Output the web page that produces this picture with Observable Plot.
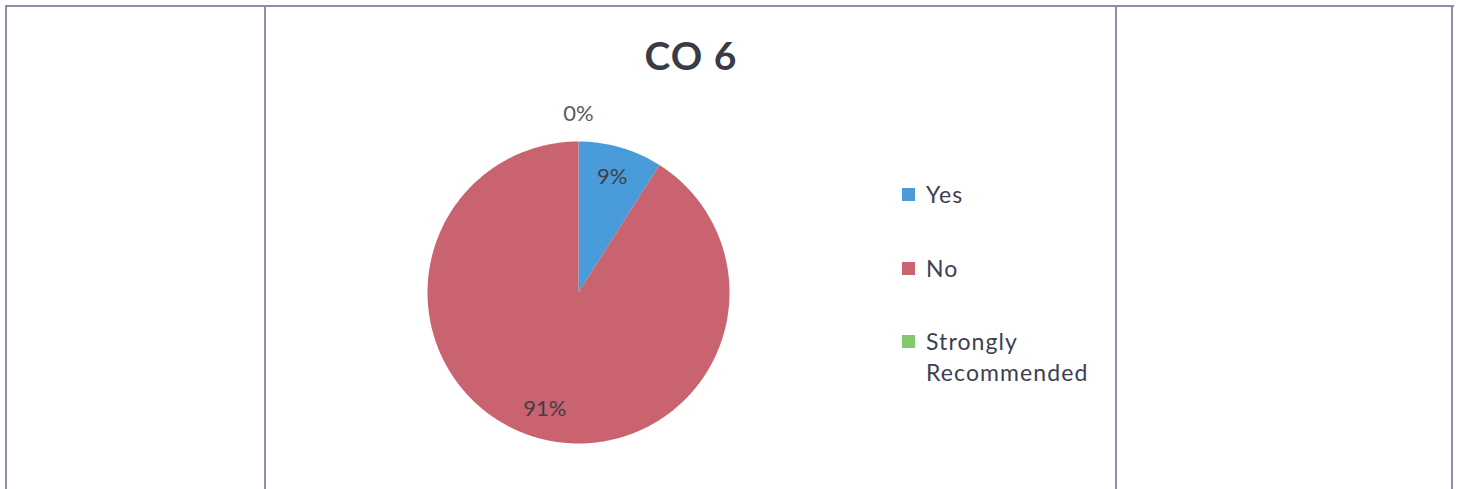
<!DOCTYPE html>
<html>
<head>
<meta charset="utf-8">
<script src="https://cdn.jsdelivr.net/npm/d3@7"></script>
<script src="https://cdn.jsdelivr.net/npm/@observablehq/plot@0.6"></script>
<style>
  html, body { margin: 0; padding: 0; background: #ffffff; }
  #page { position: relative; width: 1460px; height: 489px; overflow: hidden; background: #fff; font-family: Lato, "Open Sans", sans-serif; }
  .hline, .vline { position: absolute; background: #8d90a6; }
  #title { position: absolute; left: 591px; width: 200px; top: 36px; text-align: center; font-family: Lato, sans-serif; font-weight: 700; font-size: 39px; letter-spacing: 1px; color: #3b3b48; line-height: 1; }
  #chart { position: absolute; left: 400px; top: 90px; }
  #legend { position: absolute; left: 902px; top: 0; font-family: Lato, sans-serif; font-size: 23px; letter-spacing: 1.1px; color: #3d3f52; }
  .item { position: absolute; left: 0; white-space: nowrap; }
  .sw { position: absolute; left: 0; width: 13px; height: 13px; }
  .lt { position: absolute; left: 24px; line-height: 31px; }
</style>
</head>
<body>
<div id="page">
  <div class="hline" style="left:5px; top:5px; width:1449px; height:2px;"></div>
  <div class="vline" style="left:5px; top:5px; width:2px; height:484px;"></div>
  <div class="vline" style="left:264px; top:5px; width:2px; height:484px;"></div>
  <div class="vline" style="left:1115px; top:5px; width:2px; height:484px;"></div>
  <div class="vline" style="left:1451px; top:5px; width:2px; height:484px;"></div>
  <div id="title">CO 6</div>
  <div id="chart"></div>
  <div id="legend"></div>
</div>
<script>
// ---- data ----
const categories = ["Yes", "No", "Strongly Recommended"];
const values = [9, 91, 0];
const valueLabels = ["9%", "91%", "0%"];
const colors = ["#4a9bd9", "#c8636f", "#82c96b"];
const legendLines = [["Yes"], ["No"], ["Strongly", "Recommended"]];

// ---- build pie geometry from the data ----
const rows = categories.map((c, i) => ({key: c, value: values[i], label: valueLabels[i]}));
const arcs = d3.pie().sort(null).value(d => d.value)(rows);

const polyPts = [];
for (const a of arcs) {
  if (a.endAngle - a.startAngle <= 0) continue;
  polyPts.push({key: a.data.key, x: 0, y: 0});
  const n = Math.max(2, Math.ceil((a.endAngle - a.startAngle) / 0.01));
  for (let k = 0; k <= n; k++) {
    const t = a.startAngle + (a.endAngle - a.startAngle) * k / n;
    polyPts.push({key: a.data.key, x: Math.sin(t), y: Math.cos(t)});
  }
}
const labelPts = arcs.map(a => {
  const mid = (a.startAngle + a.endAngle) / 2;
  const r = a.data.value > 0 ? 0.8 : 1.18;
  return {x: r * Math.sin(mid), y: r * Math.cos(mid), text: a.data.label, outside: a.data.value === 0};
});

const chart = Plot.plot({
  width: 360,
  height: 370,
  margin: 0,
  style: {background: "transparent", overflow: "visible"},
  x: {domain: [-1, 1], range: [27, 329], axis: null},
  y: {domain: [-1, 1], range: [353, 51], axis: null},
  color: {domain: categories, range: colors},
  marks: [
    Plot.line(polyPts, {x: "x", y: "y", z: "key", fill: "key", stroke: "none", curve: "linear-closed"}),
    Plot.text(labelPts.filter(d => !d.outside), {x: "x", y: "y", text: "text", fill: "#3f3f46", fontSize: 22, fontFamily: "Lato, sans-serif"}),
    Plot.text(labelPts.filter(d => d.outside), {x: "x", y: "y", text: "text", fill: "#5a5a66", fontSize: 22, fontFamily: "Lato, sans-serif"})
  ]
});
document.getElementById("chart").appendChild(chart);

// ---- legend ----
const legend = document.getElementById("legend");
const tops = [179, 253, 326];
categories.forEach((c, i) => {
  const item = document.createElement("div");
  item.className = "item";
  item.style.top = tops[i] + "px";
  const sw = document.createElement("div");
  sw.className = "sw";
  sw.style.background = colors[i];
  sw.style.top = "9px";
  item.appendChild(sw);
  const lt = document.createElement("div");
  lt.className = "lt";
  lt.innerHTML = legendLines[i].join("<br>");
  item.appendChild(lt);
  legend.appendChild(item);
});
</script>
</body>
</html>
